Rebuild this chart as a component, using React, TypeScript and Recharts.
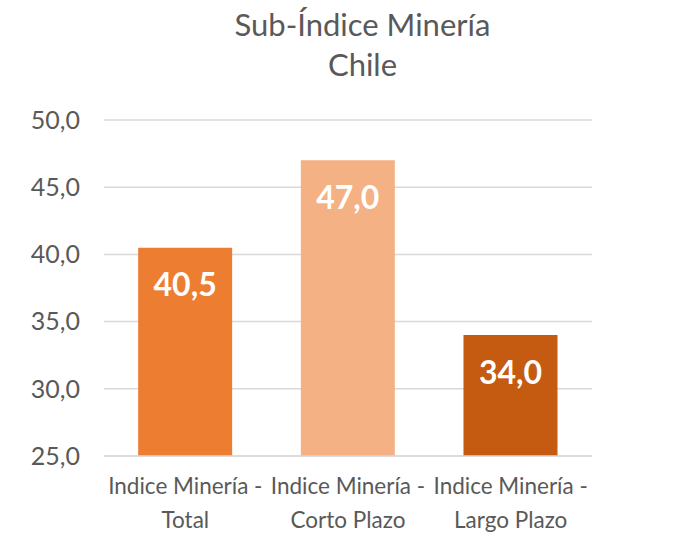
import { Bar, BarChart, CartesianGrid, Cell, LabelList, XAxis, YAxis } from 'recharts'

const categories = ['Indice Minería - Total', 'Indice Minería - Corto Plazo', 'Indice Minería - Largo Plazo']
const values = [40.5, 47.0, 34.0]
const colors = ['#ED7D31', '#F4B183', '#C55A11']
const yTicks = [25, 30, 35, 40, 45, 50]

const FONT = 'Lato, "Open Sans", sans-serif'

const data = categories.map((name, i) => ({ name, value: values[i] }))

const fmt = (v: number) => v.toFixed(1).replace('.', ',')

function CategoryTick({ x, y, payload }: any) {
  const text: string = payload.value
  const cut = text.indexOf(' - ')
  const lines = [text.slice(0, cut + 2), text.slice(cut + 3)]
  return (
    <text x={x} y={y} textAnchor="middle" fill="#595959" fontSize={22.5} fontFamily={FONT}>
      {lines.map((l, i) => (
        <tspan key={i} x={x} dy={i === 0 ? 36 : 34}>
          {l}
        </tspan>
      ))}
    </text>
  )
}

export default function App() {
  return (
    <div style={{ position: 'absolute', left: 0, top: 0, width: 697, height: 539, background: '#fff' }}>
      <div
        style={{
          position: 'absolute',
          left: 0,
          width: 697,
          top: 4,
          textAlign: 'center',
          fontFamily: FONT,
          fontSize: 31,
          lineHeight: '40px',
          color: '#595959',
          paddingLeft: 28,
          boxSizing: 'border-box',
        }}
      >
        Sub-Índice Minería
        <br />
        Chile
      </div>
      <BarChart
        width={697}
        height={539}
        data={data}
        margin={{ top: 120, right: 105, bottom: 0, left: 14 }}
        barCategoryGap="21%"
      >
        <CartesianGrid vertical={false} stroke="#D9D9D9" strokeWidth={1.5} />
        <XAxis
          dataKey="name"
          height={83}
          axisLine={{ stroke: '#D9D9D9', strokeWidth: 1.5 }}
          tickLine={false}
          tickSize={0}
          interval={0}
          tick={<CategoryTick />}
        />
        <YAxis
          width={90}
          domain={[25, 50]}
          ticks={yTicks}
          axisLine={false}
          tickLine={false}
          tickSize={0}
          tickMargin={24}
          tickFormatter={fmt}
          tick={{ fill: '#595959', fontSize: 25, fontFamily: FONT }}
        />
        <Bar dataKey="value" isAnimationActive={false}>
          {data.map((d, i) => (
            <Cell key={d.name} fill={colors[i]} />
          ))}
          <LabelList
            dataKey="value"
            position="insideTop"
            offset={26}
            formatter={(v: any) => fmt(Number(v))}
            fill="#FFFFFF"
            fontSize={32}
            fontWeight="bold"
            fontFamily={FONT}
          />
        </Bar>
      </BarChart>
    </div>
  )
}
